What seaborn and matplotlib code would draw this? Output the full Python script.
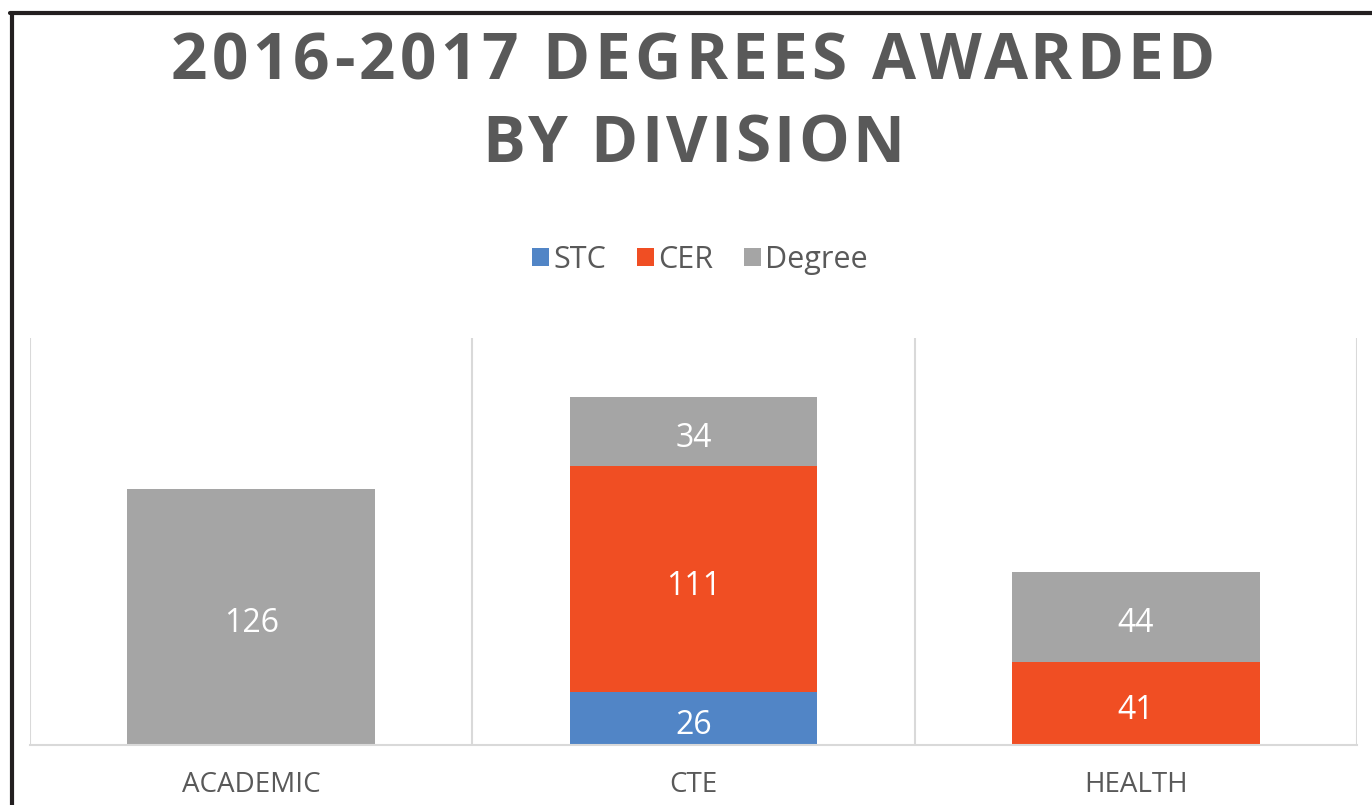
import matplotlib
matplotlib.use("Agg")
import matplotlib.pyplot as plt
import numpy as np
import pandas as pd
import seaborn as sns
from matplotlib.lines import Line2D
from matplotlib.patches import Patch

divisions = ["ACADEMIC", "CTE", "HEALTH"]
stc = [0, 26, 0]
cer = [0, 111, 41]
degree = [126, 34, 44]
series = ["STC", "CER", "Degree"]
colors = {"STC": "#5185C6", "CER": "#F04E23", "Degree": "#A5A5A5"}
title_lines = ["2016-2017 DEGREES AWARDED", "BY DIVISION"]

df = pd.DataFrame({"Division": divisions, "STC": stc, "CER": cer, "Degree": degree})
df["cum_STC"] = df["STC"]
df["cum_CER"] = df["STC"] + df["CER"]
df["cum_Degree"] = df["cum_CER"] + df["Degree"]

sns.set_theme(style="white")
plt.rcParams["font.family"] = ["Open Sans", "DejaVu Sans"]
text_gray = "#595959"

fig = plt.figure(figsize=(13.72, 8.05), dpi=100)
ax = fig.add_axes([30 / 1372, 1 - 745 / 805, 1327 / 1372, 407 / 805])

# draw tallest stack first, then overlay the lower parts
for s in ["Degree", "CER", "STC"]:
    sns.barplot(data=df, x="Division", y=f"cum_{s}", color=colors[s],
                width=0.56, saturation=1, ax=ax, linewidth=0)

ax.set_xlim(-0.5, 2.5)
ax.set_ylim(0, 200)
ax.set_ylabel("")
ax.set_xlabel("")
ax.set_yticks([])
ax.set_xticks(range(3))
ax.set_xticklabels(divisions, fontsize=20, color=text_gray)
ax.tick_params(axis="x", length=0, pad=19)
ax.set_xticks([-0.5, 0.5, 1.5, 2.5], minor=True)
ax.grid(False)
ax.grid(True, which="minor", axis="x", color="#D9D9D9", linewidth=1.5)
for sp in ["top", "left", "right"]:
    ax.spines[sp].set_visible(False)
ax.spines["bottom"].set_color("#D9D9D9")
ax.spines["bottom"].set_linewidth(1.5)

# value labels
for i, row in df.iterrows():
    base = 0
    for s in series:
        v = row[s]
        if v > 0:
            ax.annotate(str(v), (i, base + v / 2), xytext=(0, -2.2),
                        textcoords="offset points", ha="center",
                        va="center_baseline", color="white", fontsize=23)
        base += v

# letter-spaced title
renderer = fig.canvas.get_renderer()


def spaced_text(txt, xc, y_base, size, spacing):
    probe = fig.text(0, 0, "", fontsize=size, fontweight="bold")
    widths = [0]
    for k in range(1, len(txt) + 1):
        probe.set_text(txt[:k])
        widths.append(probe.get_window_extent(renderer).width)
    probe.remove()
    total = widths[-1] + spacing * (len(txt) - 1)
    x0 = xc - total / 2
    for k, ch in enumerate(txt):
        fig.text((x0 + widths[k] + spacing * k) / 1372, 1 - y_base / 805, ch,
                 fontsize=size, fontweight="bold", color=text_gray,
                 ha="left", va="baseline")


spaced_text(title_lines[0], 693, 79, 46, 4.3)
spaced_text(title_lines[1], 693, 162, 46, 3.3)

handles = [Patch(facecolor=colors[s], edgecolor="none") for s in series]
fig.legend(handles, series, loc="center", bbox_to_anchor=(700 / 1372, 1 - 260 / 805),
           ncol=3, frameon=False, fontsize=22, handlelength=0.55, handleheight=0.55,
           handletextpad=0.15, columnspacing=1.0, labelcolor=text_gray)

# outer black frame (cropped chart border)
fig.add_artist(Line2D([11.5 / 1372, 11.5 / 1372], [0, 1 - 13 / 805], transform=fig.transFigure,
                      color="#231F20", linewidth=3))
fig.add_artist(Line2D([10 / 1372, 1], [1 - 13 / 805, 1 - 13 / 805], transform=fig.transFigure,
                      color="#231F20", linewidth=3))

fig.savefig("out.png", dpi=100)
